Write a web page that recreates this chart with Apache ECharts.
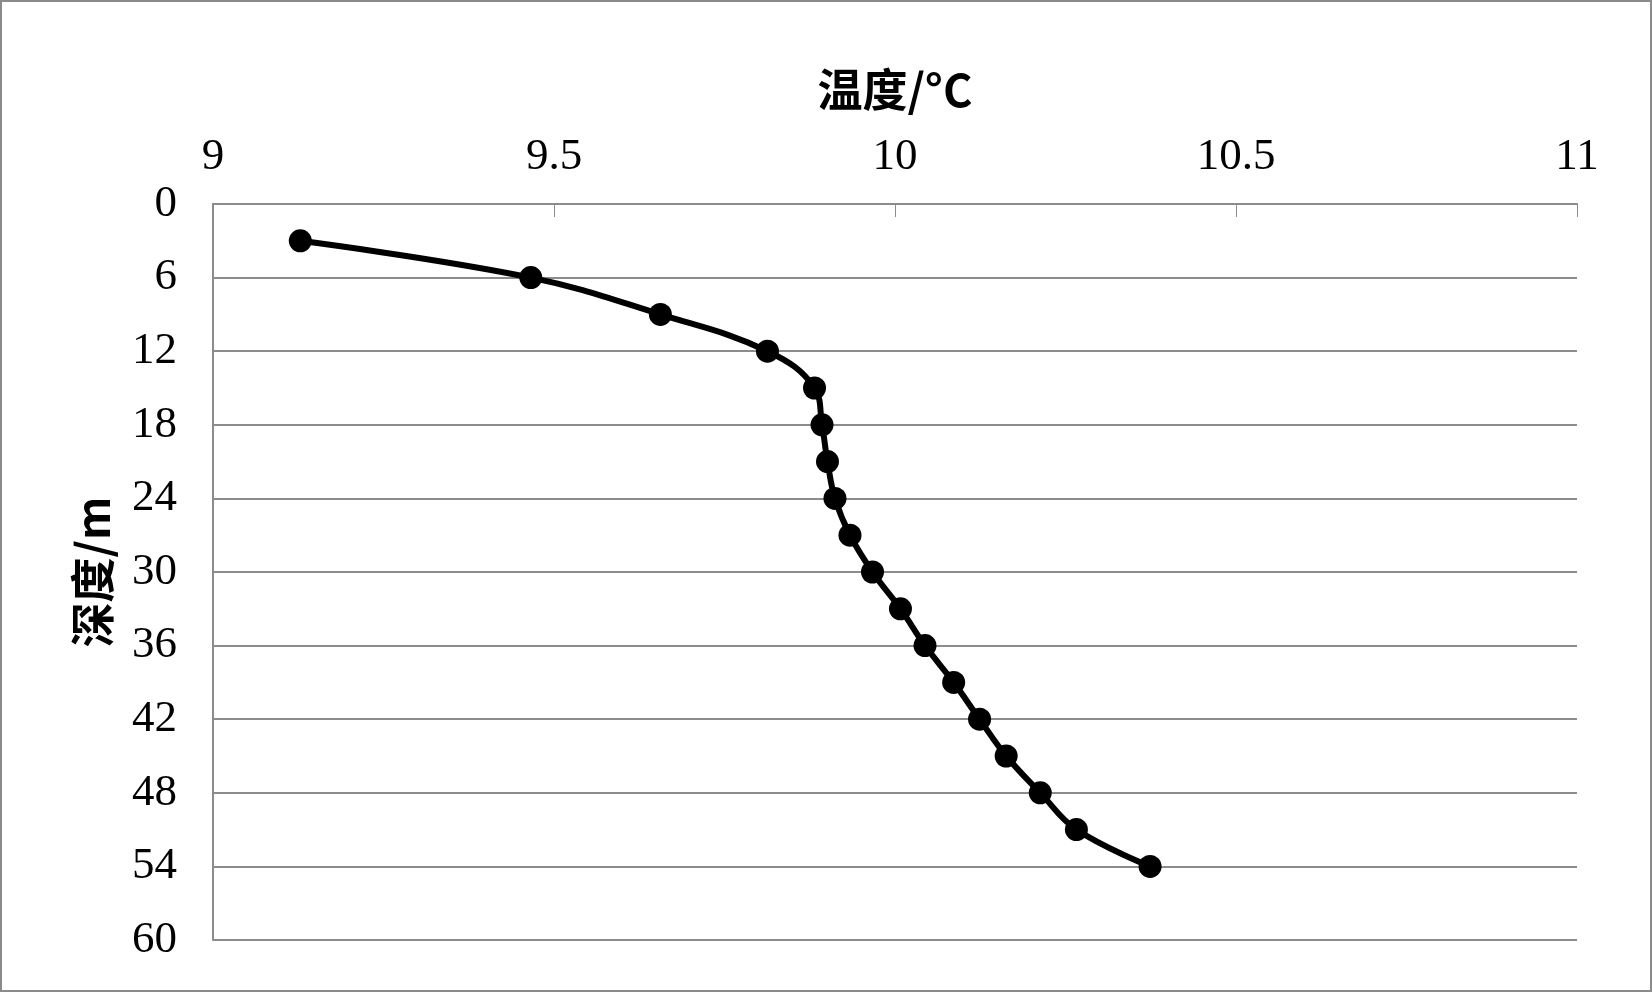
<!DOCTYPE html>
<html>
<head>
<meta charset="utf-8">
<script src="https://cdn.jsdelivr.net/npm/echarts@6/dist/echarts.min.js"></script>
<style>
  html, body { margin: 0; padding: 0; background: #fff; }
  #main { width: 1652px; height: 992px; box-sizing: border-box; border: 2px solid #8a8a8a; }
</style>
</head>
<body>
<div id="main"></div>
<script>
// 深度 (m)
var depths = [3, 6, 9, 12, 15, 18, 21, 24, 27, 30, 33, 36, 39, 42, 45, 48, 51, 54]
// 温度 (°C)
var temps = [9.128, 9.466, 9.656, 9.813, 9.882, 9.893, 9.901, 9.912, 9.934, 9.967,
  10.008, 10.044, 10.086, 10.124, 10.163, 10.213, 10.266, 10.374]

var xTitle = '温度/°C'
var yTitle = '深度/m'

var points = temps.map(function (t, i) { return [t, depths[i]] })

var myChart = echarts.init(document.getElementById('main'))
var gridColor = '#8c8c8c'
var labelFont = 'Liberation Serif'
var titleFont = 'Noto Sans CJK SC'

var option = {
  animation: false,
  grid: { left: 211, right: 73, top: 202, bottom: 50, containLabel: false },
  xAxis: {
    type: 'value',
    position: 'top',
    min: 9,
    max: 11,
    interval: 0.5,
    name: xTitle,
    nameLocation: 'middle',
    nameGap: 92,
    nameTextStyle: { fontFamily: titleFont, fontWeight: 'bold', fontSize: 45, color: '#000' },
    axisLine: { show: true, lineStyle: { color: gridColor, width: 2 } },
    axisTick: { show: true, inside: true, length: 13, lineStyle: { color: gridColor, width: 1 } },
    axisLabel: { margin: 24, fontFamily: labelFont, fontSize: 45, color: '#000' },
    splitLine: { show: false }
  },
  yAxis: {
    type: 'value',
    inverse: true,
    min: 0,
    max: 60,
    interval: 6,
    name: yTitle,
    nameLocation: 'middle',
    nameGap: 98,
    nameTextStyle: { fontFamily: titleFont, fontWeight: 'bold', fontSize: 45, color: '#000' },
    axisLine: { show: true, lineStyle: { color: gridColor, width: 2 } },
    axisTick: { show: false },
    axisLabel: { margin: 36, fontFamily: labelFont, fontSize: 45, color: '#000' },
    splitLine: { show: true, lineStyle: { color: gridColor, width: 2 } }
  },
  series: [
    {
      type: 'line',
      data: points,
      smooth: 0.4,
      symbol: 'circle',
      symbolSize: 23,
      itemStyle: { color: '#000' },
      lineStyle: { color: '#000', width: 6 }
    }
  ]
}
myChart.setOption(option)
</script>
</body>
</html>
